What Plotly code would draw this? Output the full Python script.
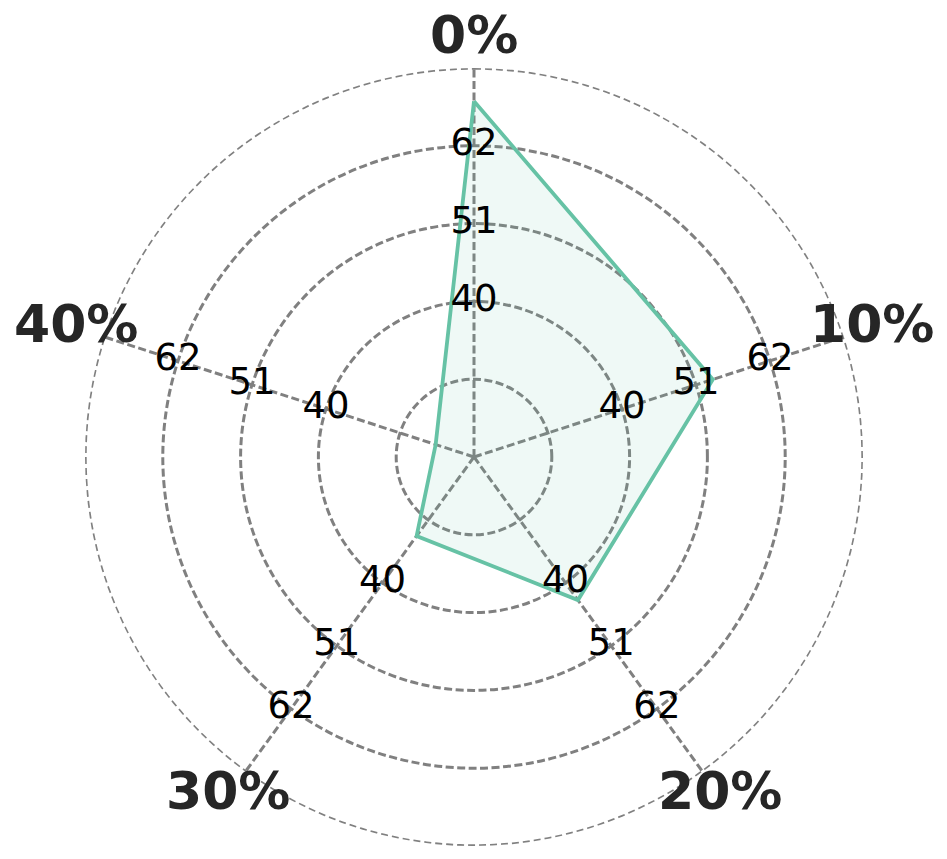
import plotly.graph_objects as go
import numpy as np

# Data ------------------------------------------------------------
categories = ["0%", "10%", "20%", "30%", "40%"]
values = [68.3, 53.5, 43.0, 31.8, 23.7]

r_min, r_max = 18, 73
ring_vals = [29, 40, 51, 62]
tick_labels = [40, 51, 62]

green = "#66c2a5"
grid_gray = "#808080"
label_pos = 1.075  # angle labels, as a fraction of the polar radius

angles = [i * 360 / len(categories) for i in range(len(categories))]

fig = go.Figure()

# the series polygon
fig.add_trace(go.Scatterpolar(
    r=values + values[:1],
    theta=angles + angles[:1],
    mode="lines",
    line=dict(color=green, width=3.8),
    fill="toself",
    fillcolor="rgba(102,194,165,0.1)",
    hoverinfo="skip",
))

# outer frame ring; lines get clipped at the edge so half of the width shows
ring_theta = np.linspace(0, 360, 361)
fig.add_trace(go.Scatterpolar(
    r=[r_max] * len(ring_theta),
    theta=ring_theta,
    mode="lines",
    line=dict(color=grid_gray, width=3.4, dash="7px,4px"),
    hoverinfo="skip",
))

# radial tick labels repeated on every spoke
tr, tt, txt = [], [], []
for a in angles:
    for v in tick_labels:
        tr.append(v)
        tt.append(a)
        txt.append(str(v))
fig.add_trace(go.Scatterpolar(
    r=tr, theta=tt, text=txt,
    mode="text",
    textposition="middle center",
    textfont=dict(family="DejaVu Sans", size=37, color="black"),
    cliponaxis=False,
    hoverinfo="skip",
))

# category labels sit outside the radial range, so use annotations
for a, name in zip(angles, categories):
    rad = np.deg2rad(a)
    fig.add_annotation(
        x=0.5 + 0.5 * label_pos * np.sin(rad),
        y=0.5 + 0.5 * label_pos * np.cos(rad),
        xref="paper", yref="paper",
        text=name,
        showarrow=False,
        xanchor="center", yanchor="middle",
        yshift=4,
        font=dict(family="DejaVu Sans", size=52, color="#262626", weight="bold"),
    )

fig.update_layout(
    width=947,
    height=859,
    margin=dict(l=77, r=92, t=60, b=21),
    showlegend=False,
    paper_bgcolor="white",
    plot_bgcolor="white",
    polar=dict(
        bgcolor="white",
        radialaxis=dict(
            range=[r_min, r_max],
            tickvals=ring_vals,
            showticklabels=False,
            ticks="",
            showline=False,
            gridcolor=grid_gray,
            gridwidth=2.6,
            griddash="8px,3.5px",
        ),
        angularaxis=dict(
            direction="clockwise",
            rotation=90,
            tickvals=angles,
            showticklabels=False,
            ticks="",
            showline=False,
            gridcolor=grid_gray,
            gridwidth=2.6,
            griddash="8px,3.5px",
        ),
    ),
)

fig.write_html("out.html")
